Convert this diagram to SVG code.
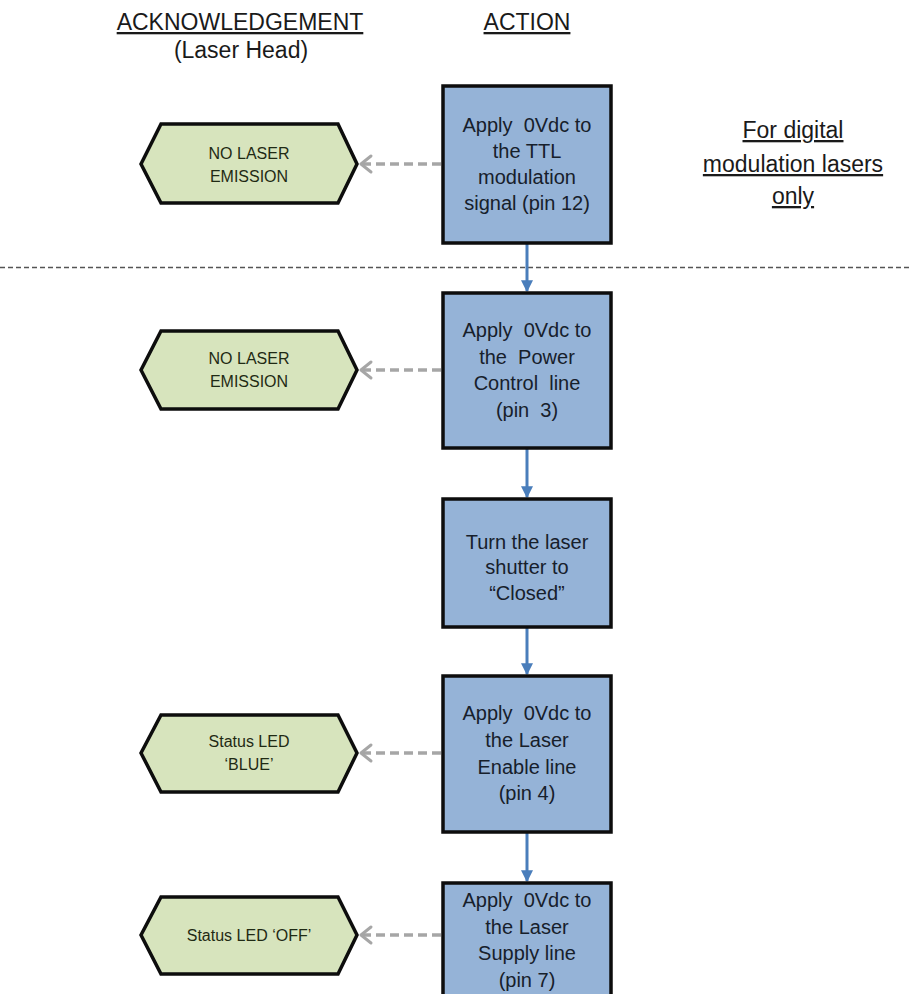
<svg xmlns="http://www.w3.org/2000/svg" width="912" height="994" viewBox="0 0 912 994">
  <defs>
    <style>
      .step { fill: #95b3d7; stroke: #0d0d0d; stroke-width: 3.5; }
      .ack { fill: #d7e4bd; stroke: #0d0d0d; stroke-width: 3.5; stroke-linejoin: miter; }
      .head { font-family: "Liberation Sans", Arial, sans-serif; font-size: 23px; fill: #1a1a1a; text-anchor: middle; }
      .ul { text-decoration: underline; }
      .stxt { font-family: "Liberation Sans", Arial, sans-serif; font-size: 20px; fill: #17202b; text-anchor: middle; white-space: pre; }
      .atxt { font-family: "Liberation Sans", Arial, sans-serif; font-size: 16px; fill: #1f2a14; text-anchor: middle; }
      .flow { stroke: #4a7ebb; stroke-width: 3; fill: none; marker-end: url(#blueHead); }
      .ackline { stroke: #a6a6a6; stroke-width: 3.5; stroke-dasharray: 9 5; fill: none; }
      .chev { stroke: #a6a6a6; stroke-width: 3; fill: none; stroke-linecap: round; stroke-linejoin: round; }
    </style>
    <marker id="blueHead" viewBox="0 0 10 10" refX="9" refY="5" markerWidth="4" markerHeight="4" orient="auto" markerUnits="strokeWidth">
      <path d="M0,0 L10,5 L0,10 z" fill="#4a7ebb"/>
    </marker>
  </defs>

  <rect width="912" height="994" fill="#ffffff"/>

  <!-- column headings -->
  <g id="headings">
    <text class="head ul" x="240" y="30">ACKNOWLEDGEMENT</text>
    <text class="head" x="241" y="58">(Laser Head)</text>
    <text class="head ul" x="527" y="30">ACTION</text>
  </g>

  <!-- note for the optional first step -->
  <g id="note">
    <text class="head ul" x="793" y="138" font-size="24">For digital</text>
    <text class="head ul" x="793" y="172" font-size="24">modulation lasers</text>
    <text class="head ul" x="793" y="204" font-size="24">only</text>
  </g>

  <!-- separator between optional and mandatory steps -->
  <line id="separator" x1="0" y1="267.5" x2="912" y2="267.5" stroke="#555555" stroke-width="1.5" stroke-dasharray="5 3"/>

  <!-- connectors -->
  <g id="connectors">
    <path class="flow" d="M527,243 V291"/>
    <path class="flow" d="M527,448 V497"/>
    <path class="flow" d="M527,627 V674"/>
    <path class="flow" d="M527,832 V881"/>

    <path class="ackline" d="M441,164 H362"/>
    <path class="chev" d="M371,156 L361,164 L371,172"/>
    <path class="ackline" d="M441,370 H362"/>
    <path class="chev" d="M371,362 L361,370 L371,378"/>
    <path class="ackline" d="M441,753 H362"/>
    <path class="chev" d="M371,745 L361,753 L371,761"/>
    <path class="ackline" d="M441,935 H362"/>
    <path class="chev" d="M371,927 L361,935 L371,943"/>
  </g>

  <!-- action steps -->
  <g id="step1">
    <rect class="step" x="443" y="86" width="168" height="157"/>
    <text class="stxt" x="527" y="132">Apply  0Vdc to</text>
    <text class="stxt" x="527" y="158">the TTL</text>
    <text class="stxt" x="527" y="184">modulation</text>
    <text class="stxt" x="527" y="210">signal (pin 12)</text>
  </g>
  <g id="step2">
    <rect class="step" x="443" y="293" width="168" height="155"/>
    <text class="stxt" x="527" y="337">Apply  0Vdc to</text>
    <text class="stxt" x="527" y="364">the  Power</text>
    <text class="stxt" x="527" y="390">Control  line</text>
    <text class="stxt" x="527" y="417">(pin  3)</text>
  </g>
  <g id="step3">
    <rect class="step" x="443" y="499" width="168" height="128"/>
    <text class="stxt" x="527" y="549">Turn the laser</text>
    <text class="stxt" x="527" y="574">shutter to</text>
    <text class="stxt" x="527" y="600">“Closed”</text>
  </g>
  <g id="step4">
    <rect class="step" x="443" y="676" width="168" height="156"/>
    <text class="stxt" x="527" y="720">Apply  0Vdc to</text>
    <text class="stxt" x="527" y="747">the Laser</text>
    <text class="stxt" x="527" y="774">Enable line</text>
    <text class="stxt" x="527" y="800">(pin 4)</text>
  </g>
  <g id="step5">
    <rect class="step" x="443" y="883" width="168" height="130"/>
    <text class="stxt" x="527" y="907">Apply  0Vdc to</text>
    <text class="stxt" x="527" y="934">the Laser</text>
    <text class="stxt" x="527" y="960">Supply line</text>
    <text class="stxt" x="527" y="987">(pin 7)</text>
  </g>

  <!-- acknowledgements from the laser head -->
  <g id="ack1">
    <polygon class="ack" points="141,164 161,124 338,124 357,164 338,203 161,203"/>
    <text class="atxt" x="249" y="159">NO LASER</text>
    <text class="atxt" x="249" y="182">EMISSION</text>
  </g>
  <g id="ack2">
    <polygon class="ack" points="141,370 161,331 338,331 357,370 338,409 161,409"/>
    <text class="atxt" x="249" y="364">NO LASER</text>
    <text class="atxt" x="249" y="387">EMISSION</text>
  </g>
  <g id="ack3">
    <polygon class="ack" points="141,753 161,715 338,715 357,753 338,792 161,792"/>
    <text class="atxt" x="249" y="747">Status LED</text>
    <text class="atxt" x="249" y="770">‘BLUE’</text>
  </g>
  <g id="ack4">
    <polygon class="ack" points="141,935 161,897 338,897 357,935 338,974 161,974"/>
    <text class="atxt" x="249" y="941">Status LED ‘OFF’</text>
  </g>
</svg>
